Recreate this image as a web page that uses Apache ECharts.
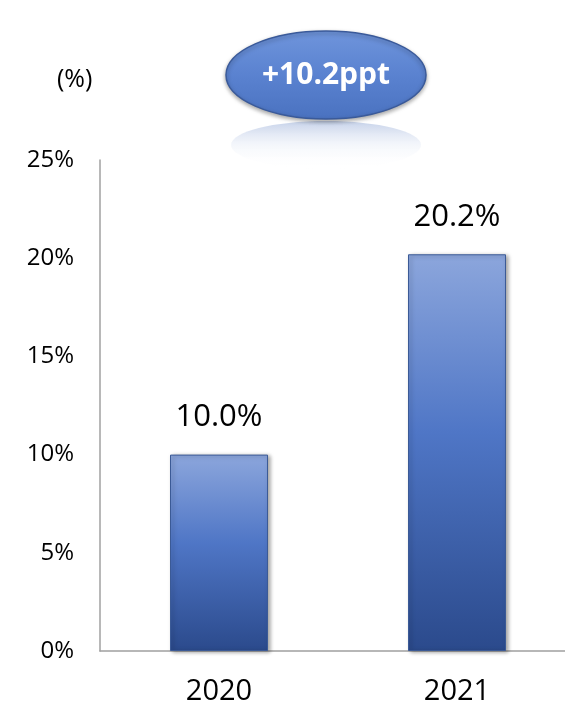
<!DOCTYPE html>
<html><head><meta charset="utf-8">
<script src="https://cdn.jsdelivr.net/npm/echarts@6/dist/echarts.min.js"></script>
<style>html,body{margin:0;padding:0;background:#fff}#c{width:565px;height:706px}</style>
</head><body><div id="c"></div>
<script>
const categories = ['2020', '2021'];
const values = [10.0, 20.2];
const valueLabels = ['10.0%', '20.2%'];
const yTicks = [0, 5, 10, 15, 20, 25];
const badgeText = '+10.2ppt';
const unitText = '(%)';

const font = '"Open Sans", "Noto Sans", sans-serif';
const chart = echarts.init(document.getElementById('c'));
chart.setOption({
  animation: false,
  grid: { left: 100, top: 160, width: 476, height: 491, outerBoundsMode: 'none', containLabel: false },
  xAxis: {
    type: 'category', data: categories,
    axisLine: { lineStyle: { color: '#a0a0a0', width: 1.5 } },
    axisTick: { show: false },
    axisLabel: { fontSize: 29, color: '#000', fontFamily: font, margin: 26 }
  },
  yAxis: {
    type: 'value', min: 0, max: 25, interval: 5,
    axisLine: { show: true, lineStyle: { color: '#a0a0a0', width: 1.5 } },
    axisTick: { show: false },
    splitLine: { show: false },
    axisLabel: { fontSize: 24, color: '#000', fontFamily: font, margin: 26,
      formatter: v => yTicks.includes(v) ? v + '%' : '' }
  },
  series: [{
    type: 'bar', data: values, barWidth: 98,
    itemStyle: {
      color: new echarts.graphic.LinearGradient(0, 0, 0, 1, [
        { offset: 0, color: '#8ca6dc' },
        { offset: 0.45, color: '#4f76c6' },
        { offset: 1, color: '#2b4a8c' }
      ]),
      borderColor: '#3b5a96', borderWidth: 1,
      shadowColor: 'rgba(0,0,0,0.35)', shadowBlur: 4, shadowOffsetX: 2, shadowOffsetY: 1
    },
    label: { show: true, position: 'top', distance: 22, fontSize: 31, color: '#000', fontFamily: font,
      formatter: p => valueLabels[p.dataIndex] }
  }],
  graphic: [
    { type: 'text', left: 57, top: 67, style: { text: unitText, fontSize: 25, fill: '#000', fontFamily: font } },
    { type: 'ellipse', shape: { cx: 326, cy: 145, rx: 95, ry: 24 },
      style: { fill: new echarts.graphic.LinearGradient(0, 0, 0, 1, [
        { offset: 0, color: 'rgba(110,140,200,0.4)' },
        { offset: 0.5, color: 'rgba(200,212,236,0.2)' },
        { offset: 1, color: 'rgba(255,255,255,0)' }]) } },
    { type: 'ellipse', shape: { cx: 326, cy: 75, rx: 100, ry: 44 },
      style: { fill: new echarts.graphic.LinearGradient(0, 0, 0, 1, [
        { offset: 0, color: '#6f95dc' },
        { offset: 0.5, color: '#5a82d0' },
        { offset: 1, color: '#4a72c0' }]),
        stroke: '#3a5a9a', lineWidth: 1.5,
        shadowColor: 'rgba(0,0,0,0.35)', shadowBlur: 4, shadowOffsetY: 2 } },
    { type: 'text', x: 326, y: 75, style: { text: badgeText, fontSize: 30, fontWeight: 'bold', fill: '#fff',
      fontFamily: font, align: 'center', verticalAlign: 'middle' } }
  ]
});
</script></body></html>
